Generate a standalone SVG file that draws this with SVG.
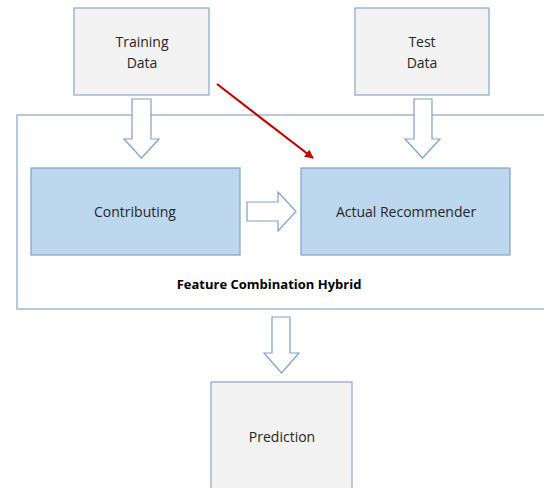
<svg xmlns="http://www.w3.org/2000/svg" width="544" height="488" viewBox="0 0 544 488">
<defs>
<style>
.gray{fill:#f2f2f2;stroke:#8aa5c8;stroke-width:1.2}
.blue{fill:#bdd7ee;stroke:#7fa1c9;stroke-width:1.2}
.cont{fill:#ffffff;stroke:#8aa5c8;stroke-width:1.2}
.barrow{fill:#ffffff;stroke:#7fa1c9;stroke-width:1.2;stroke-linejoin:miter}
text{font-family:"Open Sans","Liberation Sans",sans-serif;font-size:14px;fill:#262626;text-anchor:middle}
.bold{font-weight:bold;font-size:13px;fill:#000}
</style>
<marker id="red" viewBox="0 0 10 10" refX="9" refY="5" markerWidth="4" markerHeight="4" orient="auto" markerUnits="strokeWidth">
<path d="M0,0 L10,5 L0,10 z" fill="#c00000"/>
</marker>
</defs>
<rect width="544" height="488" fill="#ffffff"/>
<g id="container">
<rect class="cont" x="17" y="115" width="540" height="194"/>
<text class="bold" x="269" y="289">Feature Combination Hybrid</text>
</g>
<g id="training">
<rect class="gray" x="74" y="8" width="135" height="87"/>
<text x="142" y="47">Training</text>
<text x="142" y="68">Data</text>
</g>
<g id="test">
<rect class="gray" x="355" y="8" width="134" height="87"/>
<text x="422" y="47">Test</text>
<text x="422" y="68">Data</text>
</g>
<g id="contributing">
<rect class="blue" x="31" y="168" width="209" height="87"/>
<text x="135" y="217">Contributing</text>
</g>
<g id="actual">
<rect class="blue" x="301" y="168" width="209" height="87"/>
<text x="406" y="217">Actual Recommender</text>
</g>
<g id="prediction">
<rect class="gray" x="211" y="382" width="141" height="120"/>
<text x="282" y="442">Prediction</text>
</g>
<g id="connectors">
<path class="barrow" d="M132,99 H151 V139 H159 L141.5,158 L124,139 H132 Z"/>
<path class="barrow" d="M414,99 H432 V139 H440 L422.5,158 L405,139 H414 Z"/>
<path class="barrow" d="M247,202 H278 V192 L296,211.5 L278,231 V221 H247 Z"/>
<path class="barrow" d="M272,317 H290 V353 H299 L281.5,373 L264,353 H272 Z"/>
<line x1="217" y1="84" x2="313" y2="158" stroke="#c00000" stroke-width="2.2" marker-end="url(#red)"/>
</g>
</svg>
